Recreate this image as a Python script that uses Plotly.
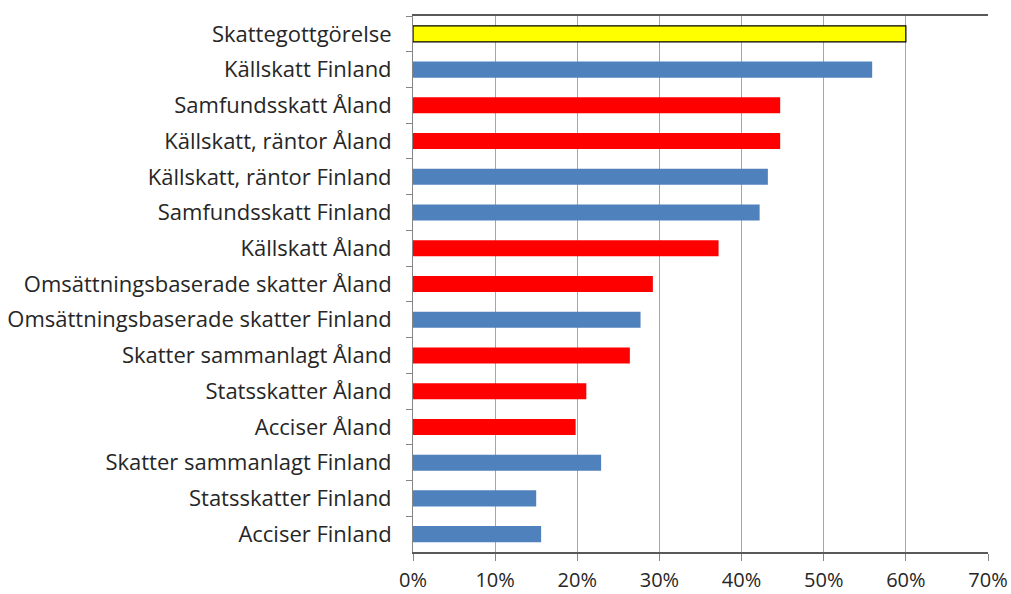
import plotly.graph_objects as go

# Categories from top to bottom
categories = [
    "Skattegottgörelse",
    "Källskatt Finland",
    "Samfundsskatt Åland",
    "Källskatt, räntor Åland",
    "Källskatt, räntor Finland",
    "Samfundsskatt Finland",
    "Källskatt Åland",
    "Omsättningsbaserade skatter Åland",
    "Omsättningsbaserade skatter Finland",
    "Skatter sammanlagt Åland",
    "Statsskatter Åland",
    "Acciser Åland",
    "Skatter sammanlagt Finland",
    "Statsskatter Finland",
    "Acciser Finland",
]

# Values in percent
values = [60.0, 55.9, 44.7, 44.7, 43.2, 42.2, 37.2, 29.2, 27.7, 26.4, 21.1, 19.8, 22.9, 15.0, 15.6]

# Region of each bar decides the colour
regions = ["Total", "Finland", "Åland", "Åland", "Finland", "Finland", "Åland", "Åland",
           "Finland", "Åland", "Åland", "Åland", "Finland", "Finland", "Finland"]

x_ticks = [0, 10, 20, 30, 40, 50, 60, 70]
x_tick_labels = ["0%", "10%", "20%", "30%", "40%", "50%", "60%", "70%"]

colour_map = {"Total": "#FFFF00", "Finland": "#4F81BD", "Åland": "#FF0000"}
bar_colours = [colour_map[r] for r in regions]
line_widths = [1.2 if r == "Total" else 0 for r in regions]

fig = go.Figure(
    go.Bar(
        y=categories,
        x=values,
        orientation="h",
        marker=dict(color=bar_colours, line=dict(color="#000000", width=line_widths)),
        hoverinfo="x+y",
    )
)

fig.update_layout(
    width=1011,
    height=594,
    margin=dict(l=413, r=23, t=16, b=42),
    paper_bgcolor="white",
    plot_bgcolor="white",
    bargap=0.55,
    showlegend=False,
    font=dict(family="Open Sans, sans-serif", size=22, color="#262626"),
)

fig.update_xaxes(
    range=[0, 70],
    tickmode="array",
    tickvals=x_ticks,
    ticktext=x_tick_labels,
    showgrid=True,
    gridcolor="#A6A6A6",
    gridwidth=1,
    showline=True,
    linecolor="#595959",
    linewidth=1.5,
    mirror=True,
    ticks="outside",
    ticklen=7,
    tickcolor="#868686",
    zeroline=False,
    automargin=False,
    ticklabeloverflow="allow",
    ticklabelstandoff=2,
    tickfont=dict(size=20),
)

fig.update_yaxes(
    autorange="reversed",
    showline=True,
    linecolor="#868686",
    linewidth=1,
    ticks="outside",
    tickson="boundaries",
    ticklen=6,
    tickcolor="#868686",
    ticklabelstandoff=16,
    automargin=False,
    tickfont=dict(size=22),
)

# drop the default body margin so the figure fills the window exactly
fig.write_html(
    "out.html",
    config={"displayModeBar": False},
    post_script="document.body.style.margin='0';",
)
